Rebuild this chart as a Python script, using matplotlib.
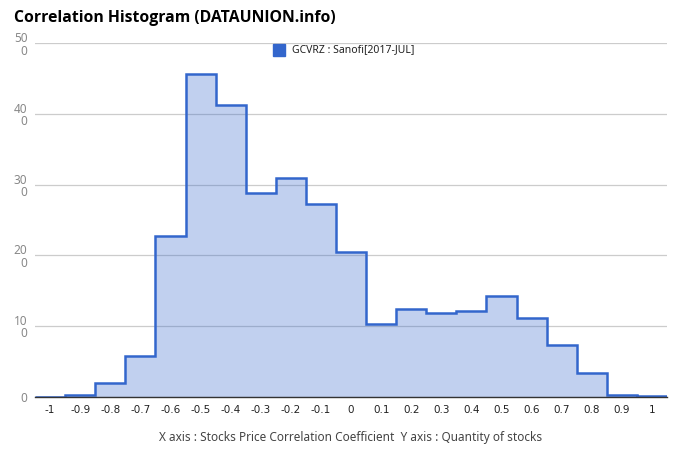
import numpy as np
import matplotlib
matplotlib.use('Agg')
import matplotlib.pyplot as plt
from matplotlib.transforms import offset_copy

# correlation bins (centres) and quantity of stocks per bin
centres = [-1.0, -0.9, -0.8, -0.7, -0.6, -0.5, -0.4, -0.3, -0.2, -0.1, 0.0,
           0.1, 0.2, 0.3, 0.4, 0.5, 0.6, 0.7, 0.8, 0.9, 1.0]
counts = [0.0, 0.25, 2.0, 5.7, 22.7, 45.7, 41.2, 28.8, 30.9, 27.3, 20.5,
          10.3, 12.4, 11.9, 12.1, 14.2, 11.2, 7.3, 3.3, 0.3, 0.15]
x_ticks = [-1, -0.9, -0.8, -0.7, -0.6, -0.5, -0.4, -0.3, -0.2, -0.1, 0,
           0.1, 0.2, 0.3, 0.4, 0.5, 0.6, 0.7, 0.8, 0.9, 1]
x_labels = ['-1', '-0.9', '-0.8', '-0.7', '-0.6', '-0.5', '-0.4', '-0.3', '-0.2', '-0.1', '0',
            '0.1', '0.2', '0.3', '0.4', '0.5', '0.6', '0.7', '0.8', '0.9', '1']
y_ticks = [0, 10, 20, 30, 40, 50]
y_labels = ['0', '10\n0', '20\n0', '30\n0', '40\n0', '50\n0']
series_name = 'GCVRZ : Sanofi[2017-JUL]'

blue = '#3366cc'

fig = plt.figure(figsize=(6.8, 4.62), dpi=100)
ax = fig.add_axes([0.0515, 0.1413, 0.9295, 0.7652])

c = np.array(centres)
edges = np.concatenate([c - 0.05, [c[-1] + 0.05]])
ax.stairs(counts, edges, fill=True, color=blue, alpha=0.3, linewidth=0)
ax.stairs(counts, edges, baseline=None, color=blue, linewidth=1.8)

ax.set_xlim(-1.05, 1.05)
ax.set_ylim(0, 50)

ax.set_xticks(x_ticks)
ax.set_xticklabels(x_labels, fontsize=7.5, color='#222222', family='DejaVu Sans')
ax.set_yticks(y_ticks)
ax.set_yticklabels([])
# wrapped y labels, right-aligned line by line
ylab_tr = offset_copy(ax.get_yaxis_transform(), fig=fig, x=0, y=-1.2, units='points')
for v, lab in zip(y_ticks, y_labels):
    ax.text(-0.012, v, lab, transform=ylab_tr, ha='right', va='center',
            multialignment='right', fontsize=8.5, color='#888888', linespacing=0.95,
            family='Noto Sans')
ax.tick_params(axis='both', length=0)
ax.tick_params(axis='x', pad=6)

ax.grid(axis='y', color='#cccccc', linewidth=0.9)
ax.set_axisbelow(True)
for s in ['top', 'right', 'left']:
    ax.spines[s].set_visible(False)
ax.spines['bottom'].set_color('#333333')
ax.spines['bottom'].set_linewidth(1.0)
ax.spines['bottom'].set_zorder(5)

fig.text(14 / 680, 1 - 18 / 462, 'Correlation Histogram (DATAUNION.info)',
         fontsize=11.3, fontweight='bold', family='Open Sans', va='center', ha='left')

# legend
fig.patches.append(plt.Rectangle((273 / 680, 1 - 56 / 462), 12 / 680, 12 / 462,
                                 transform=fig.transFigure, color=blue))
fig.text(292 / 680, 1 - 50 / 462, series_name, fontsize=7.5, color='#222222',
         family='Noto Sans', va='center', ha='left')

fig.text(351 / 680, 1 - 437 / 462,
         'X axis : Stocks Price Correlation Coefficient  Y axis : Quantity of stocks',
         fontsize=8.5, color='#444444', family='Noto Sans', va='center', ha='center')

fig.savefig('out.png', dpi=100)
